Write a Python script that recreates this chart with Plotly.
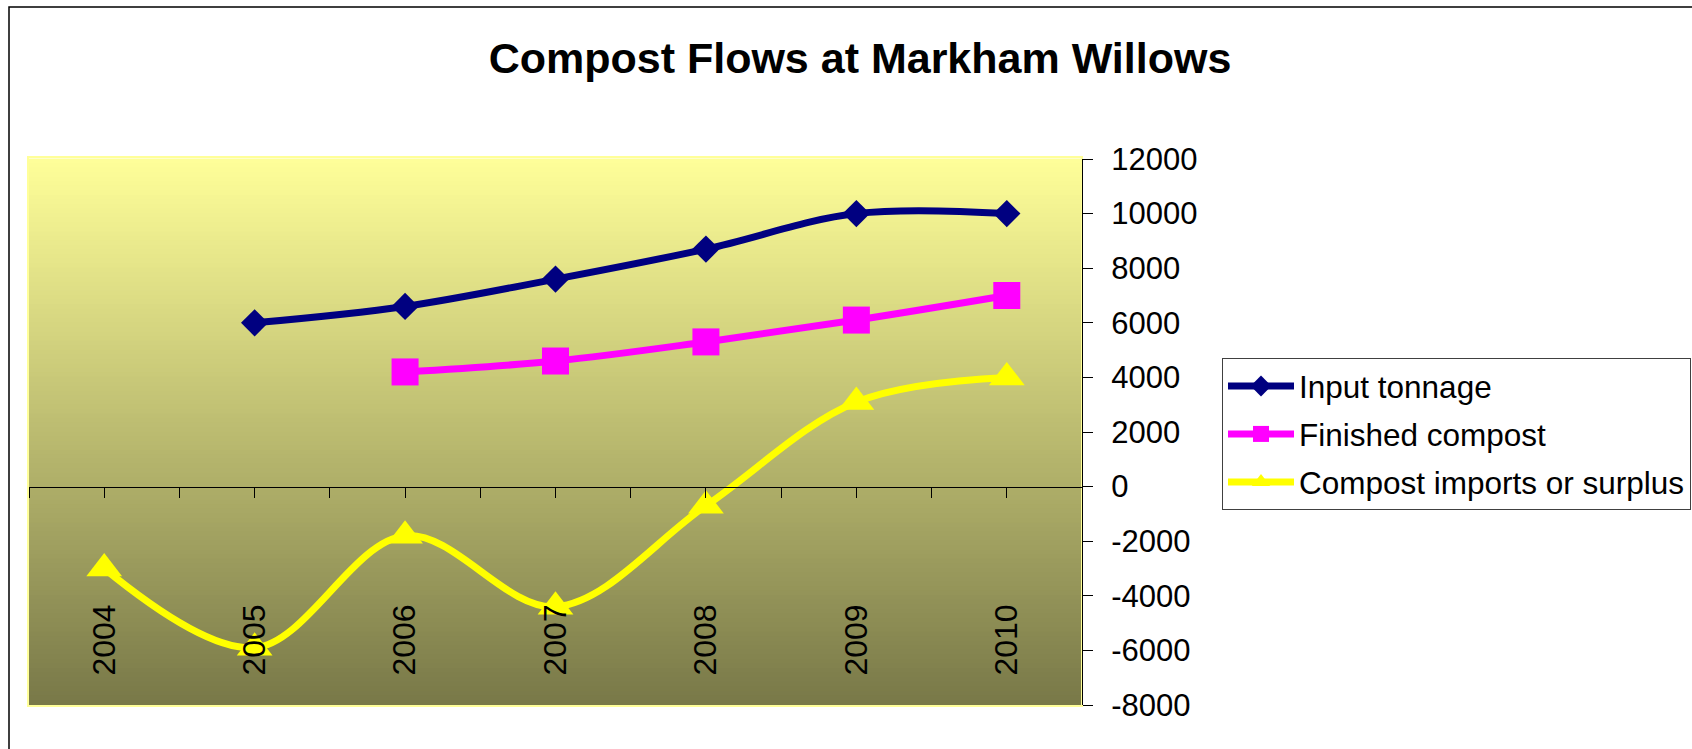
import plotly.graph_objects as go

# ---------------- data ----------------
years = ["2004", "2005", "2006", "2007", "2008", "2009", "2010"]
input_tonnage = [None, 6000, 6600, 7600, 8700, 10000, 10000]
finished_compost = [None, None, 4200, 4600, 5300, 6100, 7000]
imports_surplus = [-3000, -5900, -1800, -4400, -700, 3100, 4000]
y_tick_values = [-8000, -6000, -4000, -2000, 0, 2000, 4000, 6000, 8000, 10000, 12000]
y_tick_labels = ["-8000", "-6000", "-4000", "-2000", "0", "2000", "4000", "6000", "8000", "10000", "12000"]

# ---------------- geometry ----------------
W, H = 1692, 749
PL, PR, PT, PB = 29, 1082, 159, 705


def px_x(px):
    return (px - PL) / (PR - PL)


def px_y(py):
    return (PB - py) / (PB - PT)


FONT = "Arial, 'Liberation Sans', sans-serif"
xpos = list(range(len(years)))

fig = go.Figure()

fig.add_trace(go.Scatter(
    x=xpos, y=input_tonnage, name="Input tonnage", legendgroup="a",
    mode="lines+markers", line=dict(color="#000080", width=7, shape="spline", smoothing=1),
    marker=dict(symbol="diamond", size=21, color="#000080"),
))
fig.add_trace(go.Scatter(
    x=xpos, y=finished_compost, name="Finished compost", legendgroup="b",
    mode="lines+markers", line=dict(color="#FF00FF", width=7, shape="spline", smoothing=1),
    marker=dict(symbol="square", size=27, color="#FF00FF"),
))
fig.add_trace(go.Scatter(
    x=xpos, y=imports_surplus, name="Compost imports or surplus", legendgroup="c",
    mode="lines+markers", line=dict(color="#FFFF00", width=7, shape="spline", smoothing=1),
    marker=dict(symbol="triangle-up", size=31, color="#FFFF00"),
))

# ---------------- background gradient ----------------
shapes = []
top_c = (255, 255, 153)
bot_c = (120, 120, 72)
N = 120
for i in range(N):
    t = (i + 0.5) / N  # 0 at top
    c = tuple(round(top_c[k] + (bot_c[k] - top_c[k]) * t) for k in range(3))
    shapes.append(dict(
        type="rect", xref="x domain", yref="y domain",
        x0=0, x1=1, y0=1 - (i + 1) / N - 0.001, y1=1 - i / N + 0.001,
        fillcolor="rgb(%d,%d,%d)" % c, line=dict(width=0), layer="below",
    ))
# light border of the plot area
shapes.append(dict(type="rect", xref="paper", yref="paper",
                   x0=px_x(28), x1=px_x(1082), y0=px_y(706), y1=px_y(157),
                   line=dict(color="#FFFF99", width=2), fillcolor="rgba(0,0,0,0)", layer="below"))
# outer chart border
shapes.append(dict(type="rect", xref="paper", yref="paper",
                   x0=px_x(9), x1=px_x(W + 30), y0=px_y(H + 30), y1=px_y(7),
                   line=dict(color="#000000", width=1.5), fillcolor="rgba(0,0,0,0)", layer="below"))

fig.update_layout(
    width=W, height=H,
    margin=dict(l=PL, r=W - PR, t=PT, b=H - PB, autoexpand=False),
    paper_bgcolor="white", plot_bgcolor="rgba(0,0,0,0)",
    font=dict(family=FONT, color="black"),
    title=dict(
        text="<b>Compost Flows at Markham Willows</b>",
        font=dict(family=FONT, size=43, color="black"),
        x=px_x(860), xref="paper", xanchor="center",
        y=1 - 58 / H, yref="container", yanchor="middle",
    ),
    xaxis=dict(
        range=[-0.5, len(years) - 0.5],
        tickmode="array", tickvals=xpos, ticktext=years,
        tickangle=-90, tickfont=dict(family=FONT, size=32, color="black"),
        ticks="outside", ticklen=10, tickcolor="black", tickwidth=1,
        minor=dict(dtick=0.5, tick0=-0.5, ticks="outside", ticklen=10, tickcolor="black", tickwidth=1),
        ticklabelstandoff=94,
        showline=True, linecolor="black", linewidth=1,
        showgrid=False, zeroline=False,
        anchor="free", position=0.4,
        automargin=False, fixedrange=True,
    ),
    yaxis=dict(
        range=[-8000, 12000], side="right",
        tickmode="array", tickvals=y_tick_values, ticktext=y_tick_labels,
        tickfont=dict(family=FONT, size=31, color="black"),
        ticks="outside", ticklen=10, tickcolor="black", tickwidth=1,
        ticklabelstandoff=12,
        showline=True, linecolor="black", linewidth=1,
        showgrid=False, zeroline=False,
        automargin=False, fixedrange=True,
    ),
    legend=dict(
        x=px_x(1222), y=px_y(358), xanchor="left", yanchor="top",
        xref="paper", yref="paper",
        bgcolor="white", bordercolor="#404040", borderwidth=1,
        font=dict(family=FONT, size=31.5, color="black"),
        itemwidth=66, tracegroupgap=4, traceorder="grouped",
    ),
    shapes=shapes,
    showlegend=True,
)

fig.write_html("out.html")
